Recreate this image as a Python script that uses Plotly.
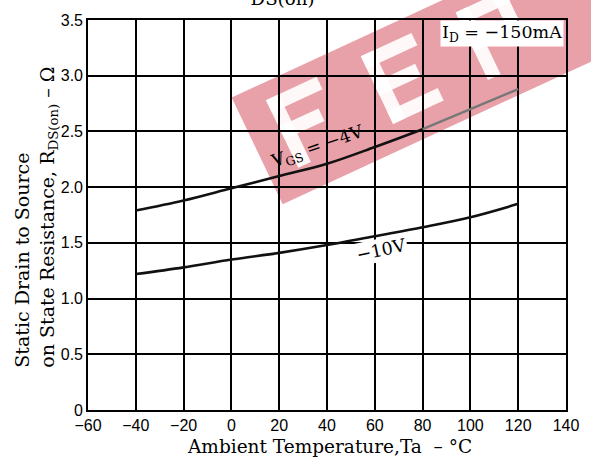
import math
import plotly.graph_objects as go

# ---- data ----
temp = [-40, -20, 0, 20, 40, 60, 80, 100, 120]
r_vgs4 = [1.79, 1.88, 1.99, 2.10, 2.21, 2.36, 2.52, 2.70, 2.88]
r_vgs10 = [1.22, 1.28, 1.35, 1.41, 1.48, 1.56, 1.64, 1.73, 1.85]

x_ticks = [-60, -40, -20, 0, 20, 40, 60, 80, 100, 120, 140]
x_ticktext = ["−60", "−40", "−20", "0", "20", "40", "60", "80", "100", "120", "140"]
y_ticks = [0, 0.5, 1.0, 1.5, 2.0, 2.5, 3.0, 3.5]
y_ticktext = ["0", "0.5", "1.0", "1.5", "2.0", "2.5", "3.0", "3.5"]

SERIF = "DejaVu Serif, Liberation Serif, serif"
TICKF = "Liberation Sans Narrow, Liberation Sans, Arial, sans-serif"

W, H = 591, 468
ML, MR, MT, MB = 88, 24, 13, 58
PW, PH = W - ML - MR, H - MT - MB

fig = go.Figure()
fig.add_trace(go.Scatter(x=temp[:7], y=r_vgs4[:7], mode="lines",
                         line=dict(color="#111111", width=2.6, shape="spline"),
                         showlegend=False, hoverinfo="skip"))
fig.add_trace(go.Scatter(x=temp[6:], y=r_vgs4[6:], mode="lines",
                         line=dict(color="#777777", width=2.4, shape="spline"),
                         showlegend=False, hoverinfo="skip"))
fig.add_trace(go.Scatter(x=temp, y=r_vgs10, mode="lines",
                         line=dict(color="#111111", width=2.6, shape="spline"),
                         showlegend=False, hoverinfo="skip"))

# ---- decorative watermark (pink band with white block letters) ----
ang = math.atan(0.47)
d = (math.cos(ang), -math.sin(ang))      # along band (rising to the right)
n = (math.sin(ang), math.cos(ang))       # across band (downwards)
origin = (232.0, 92.0)


def to_paper(u, v):
    px = origin[0] + u * d[0] + v * n[0]
    py = origin[1] + u * d[1] + v * n[1]
    return (px - ML) / PW, (H - MB - py) / PH


def poly(pts):
    s = []
    for i, (u, v) in enumerate(pts):
        xp, yp = to_paper(u, v)
        s.append(("M" if i == 0 else "L") + f" {xp:.4f} {yp:.4f}")
    return " ".join(s) + " Z"


band = [(0, 0), (0, 120), (700, 120), (700, 0)]
fig.add_shape(type="path", xref="paper", yref="paper", layer="below",
              path=poly(band), fillcolor="#E9A1A9", line=dict(width=0))


def rect(u0, u1, w0, w1, vc=55):
    return [(u0, vc - w0), (u1, vc - w0), (u1, vc - w1), (u0, vc - w1)]


letters = []
# F
u0 = 30
letters += [rect(u0, u0 + 14, -38, 38), rect(u0, u0 + 56, 24, 38), rect(u0, u0 + 44, -6, 8)]
# E
u0 = 135
letters += [rect(u0, u0 + 14, -38, 38), rect(u0, u0 + 56, 24, 38),
            rect(u0, u0 + 46, -6, 8), rect(u0, u0 + 56, -38, -24)]
# P
u0 = 240
letters += [rect(u0, u0 + 14, -38, 38), rect(u0, u0 + 54, 24, 38),
            rect(u0 + 40, u0 + 54, -6, 38), rect(u0, u0 + 54, -6, 8)]
for r in letters:
    fig.add_shape(type="path", xref="paper", yref="paper", layer="below",
                  path=poly(r), fillcolor="white", opacity=0.92, line=dict(width=0))

anns = [
    dict(text="I<sub>D</sub> = −150mA", xref="x", yref="y", x=140, y=3.38,
         xanchor="right", xshift=-2, showarrow=False, bgcolor="white",
         font=dict(family=SERIF, size=17.5, color="black")),
    dict(text="V<sub>GS</sub> = −4V", xref="x", yref="y", x=36, y=2.36,
         showarrow=False, textangle=-19,
         font=dict(family=SERIF, size=17.5, color="black")),
    dict(text="−10V", xref="x", yref="y", x=62.5, y=1.44,
         showarrow=False, textangle=-12, bgcolor="white",
         font=dict(family=SERIF, size=17.5, color="black")),
    dict(text="Static Drain to Source<br>on State Resistance, R<sub>DS(on)</sub> – Ω",
         xref="paper", yref="paper", x=-0.108, y=0.494, xanchor="center", yanchor="middle",
         textangle=-90, align="left", showarrow=False,
         font=dict(family=SERIF, size=19, color="black")),
    dict(text="Ambient Temperature,Ta  – °C", xref="paper", yref="paper",
         x=0.505, y=-0.093, xanchor="center", yanchor="middle", showarrow=False,
         font=dict(family=SERIF, size=18.5, color="black")),
    dict(text="R<sub>DS(on)</sub>  —  Ta", xref="paper", yref="paper",
         x=0.48, y=1.0, xanchor="center", yanchor="bottom", yshift=9, showarrow=False,
         font=dict(family=SERIF, size=26, color="black")),
]
fig.update_layout(annotations=anns)

axis_common = dict(showgrid=True, gridcolor="black", gridwidth=1.5,
                   showline=True, linecolor="black", linewidth=1.6, mirror=True,
                   ticks="", zeroline=False, ticklabeloverflow="allow",
                   tickfont=dict(family=TICKF, size=16, color="black"))
fig.update_xaxes(range=[-60, 140], tickvals=x_ticks, ticktext=x_ticktext, **axis_common)
fig.update_yaxes(range=[0, 3.5], tickvals=y_ticks, ticktext=y_ticktext, **axis_common)

fig.update_layout(width=W, height=H,
                  margin=dict(l=ML, r=MR, t=MT, b=MB),
                  plot_bgcolor="rgba(0,0,0,0)", paper_bgcolor="white",
                  showlegend=False)

fig.write_html("out.html", config={"displayModeBar": False},
               post_script="document.body.style.margin='0px';document.body.style.padding='0px';")
